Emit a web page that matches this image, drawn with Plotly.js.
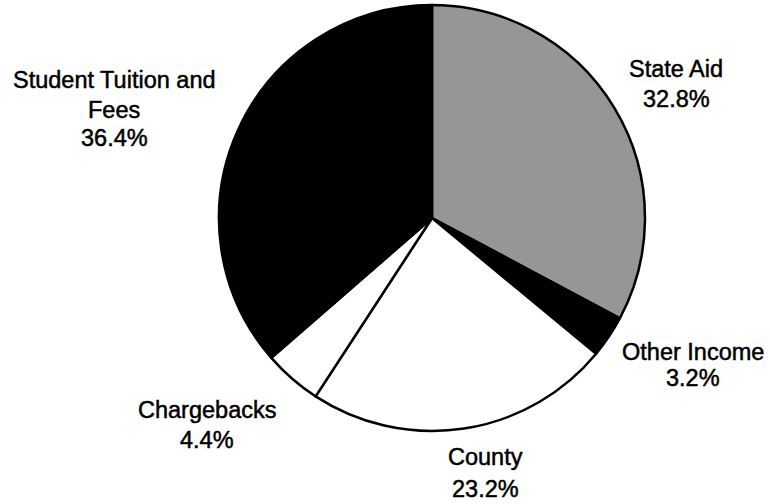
<!DOCTYPE html>
<html>
<head>
<meta charset="utf-8">
<script src="https://cdn.plot.ly/plotly-3.0.1.min.js"></script>
<style>
  html, body { margin: 0; padding: 0; background: #ffffff; }
  #chart { width: 770px; height: 504px; }
  #chart .annotation-text { stroke: #000000; stroke-width: 0.5px; }
</style>
</head>
<body>
<div id="chart"></div>
<script>
// ---- data ----
var labels = ['State Aid', 'Other Income', 'County', 'Chargebacks', 'Student Tuition and\nFees'];
var values = [32.8, 3.2, 23.2, 4.4, 36.4];
var sliceColors = ['#969696', '#000000', '#ffffff', '#ffffff', '#000000'];

// ---- label placement (pixels in the 770x504 frame: centre x, cap-centre y of each line) ----
var labelX = [676, 693, 485, 207, 114];
var labelY = [[69, 99], [352, 378], [457, 489], [410, 440], [80, 110, 138]];

var W = 770, H = 504;
var annotations = [];
labels.forEach(function (lab, i) {
  var lines = lab.split('\n').concat([values[i].toFixed(1) + '%']);
  lines.forEach(function (t, j) {
    annotations.push({
      text: t,
      x: labelX[i] / W,
      y: 1 - labelY[i][j] / H,
      xref: 'paper', yref: 'paper',
      xanchor: 'center', yanchor: 'middle',
      showarrow: false,
      font: { family: 'Liberation Sans, Arial, sans-serif', size: 23.5, color: '#000000' }
    });
  });
});

var cx = 432, cy = 218, r = 213;
var trace = {
  type: 'pie',
  labels: labels.map(function (l) { return l.replace('\n', ' '); }),
  values: values,
  sort: false,
  direction: 'clockwise',
  rotation: 0,
  textinfo: 'none',
  hoverinfo: 'label+percent',
  marker: { colors: sliceColors, line: { color: '#000000', width: 2.5 } },
  domain: { x: [(cx - r) / W, (cx + r) / W], y: [(H - cy - r) / H, (H - cy + r) / H] }
};

var layout = {
  width: W, height: H,
  margin: { l: 0, r: 0, t: 0, b: 0, pad: 0 },
  paper_bgcolor: '#ffffff',
  plot_bgcolor: '#ffffff',
  showlegend: false,
  annotations: annotations
};

Plotly.newPlot('chart', [trace], layout, { displayModeBar: false, staticPlot: true });
</script>
</body>
</html>
